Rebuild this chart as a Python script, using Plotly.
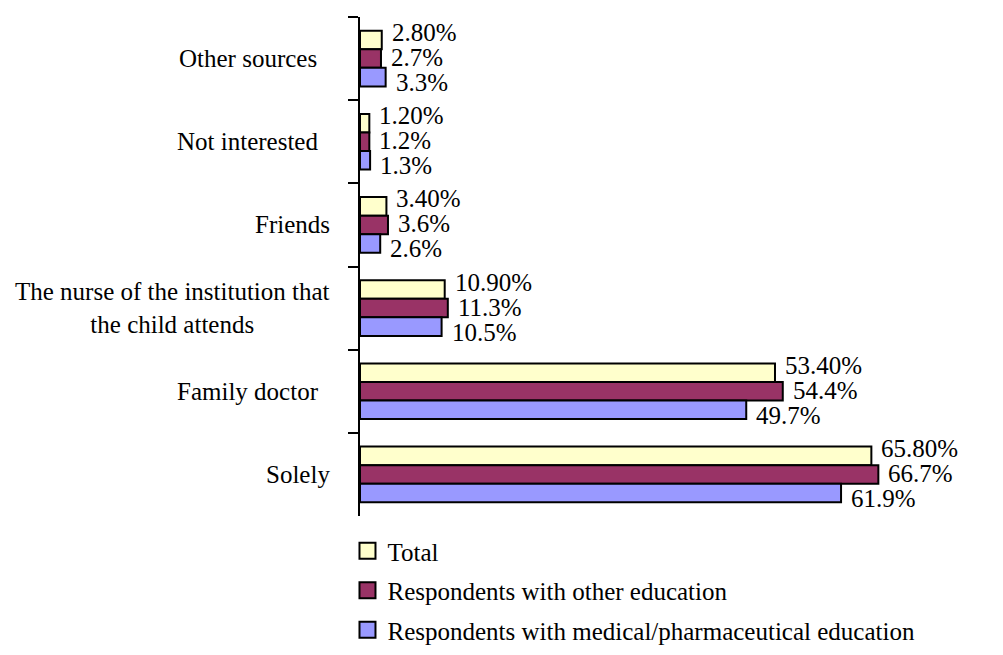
import plotly.graph_objects as go

categories = ["Other sources", "Not interested", "Friends",
              "The nurse of the institution that the child attends",
              "Family doctor", "Solely"]
category_labels = ["Other sources\u00a0\u00a0", "Not interested\u00a0\u00a0", "Friends",
                   "The nurse of the institution that<br>the child attends",
                   "Family doctor\u00a0\u00a0", "Solely"]
total = [2.80, 1.20, 3.40, 10.90, 53.40, 65.80]
other_edu = [2.7, 1.2, 3.6, 11.3, 54.4, 66.7]
medical_edu = [3.3, 1.3, 2.6, 10.5, 49.7, 61.9]

series_names = ["Total", "Respondents with other education",
                "Respondents with medical/pharmaceutical education"]
series_values = [total, other_edu, medical_edu]
series_colors = ["#FFFFCC", "#993366", "#9999FF"]
series_decimals = [2, 1, 1]
label_yshift = [26, 1, -24]  # value labels spread like the reference

FONT = "Liberation Serif, Times New Roman, serif"
FS = 25

W, H = 995, 647
ML, MR, MT, MB = 352, 99, 9, 0
PLOT_BOTTOM = 508  # figure px where the category axis ends
paper_h = H - MT - MB

fig = go.Figure()
for name, vals, col in zip(series_names, series_values, series_colors):
    fig.add_trace(go.Bar(
        y=categories, x=vals, orientation="h", name=name,
        marker=dict(color=col, line=dict(color="black", width=2)),
        showlegend=False,
    ))
for i, (name, col) in enumerate(zip(series_names, series_colors)):
    fig.add_trace(go.Scatter(
        x=[None], y=[None], mode="markers", name=name, legendgroup=f"g{i}",
        marker=dict(symbol="square", size=16, color=col,
                    line=dict(color="black", width=2)),
    ))

# value labels
for vals, dec, ys in zip(series_values, series_decimals, label_yshift):
    for cat, v in zip(categories, vals):
        fig.add_annotation(x=v, y=cat, xref="x", yref="y",
                           text=f"{v:.{dec}f}%", xanchor="left", yanchor="middle",
                           xshift=8, yshift=ys, showarrow=False,
                           font=dict(family=FONT, size=FS, color="black"))

# category labels
for cat, lab in zip(categories, category_labels):
    fig.add_annotation(x=-0.052, xref="paper", y=cat, yref="y", text=lab,
                       xanchor="right", yanchor="middle", align="center",
                       showarrow=False,
                       font=dict(family=FONT, size=FS, color="black"))

fig.update_layout(
    width=W, height=H,
    margin=dict(l=ML, r=MR, t=MT, b=MB),
    paper_bgcolor="white", plot_bgcolor="white",
    barmode="group", bargap=0.33, bargroupgap=0,
    font=dict(family=FONT, size=FS, color="black"),
    showlegend=True,
    legend=dict(x=-0.023, y=(H - MB - 520) / paper_h, xanchor="left", yanchor="top",
                orientation="v", tracegroupgap=4,
                font=dict(family=FONT, size=FS, color="black"),
                bgcolor="rgba(0,0,0,0)"),
    xaxis=dict(range=[0, 70], visible=False, fixedrange=True),
    yaxis=dict(autorange="reversed", showline=True, linecolor="black", linewidth=2,
               domain=[(H - MB - PLOT_BOTTOM) / paper_h, 1],
               ticks="outside", ticklen=10, tickwidth=2, tickcolor="black",
               tickson="boundaries", showticklabels=False, showgrid=False,
               zeroline=False),
)

fig.write_html("out.html")
